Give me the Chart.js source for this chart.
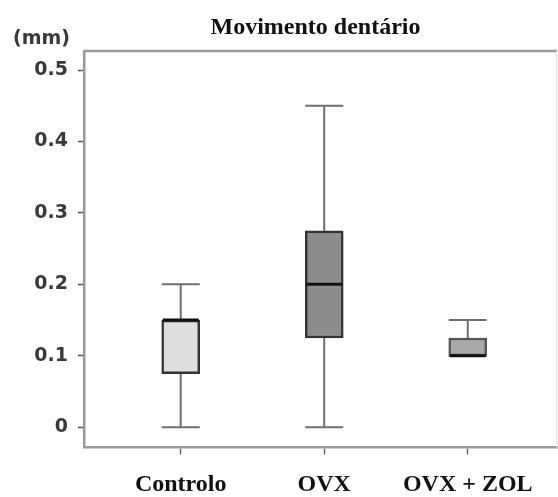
<!DOCTYPE html>
<html>
<head>
<meta charset="utf-8">
<script src="https://cdn.jsdelivr.net/npm/chart.js@4"></script>
<style>
  html, body { margin: 0; padding: 0; background: #ffffff; }
  #wrap { width: 558px; height: 497px; }
</style>
</head>
<body>
<div id="wrap"><canvas id="chart" width="558" height="497"></canvas></div>
<script>
// Tooth movement (mm) per group: five-number summaries
const categories = ['Controlo', 'OVX', 'OVX + ZOL'];
const positions  = [1, 2, 3];
const minVals    = [0.0,   0.0,   0.1];
const q1Vals     = [0.075, 0.125, 0.1];
const medianVals = [0.15,  0.2,   0.1];
const q3Vals     = [0.15,  0.275, 0.125];
const maxVals    = [0.2,   0.45,  0.15];
const yTicks     = [0, 0.1, 0.2, 0.3, 0.4, 0.5];

const boxFills   = ['#dedede', '#8c8c8c', '#a9a9a9'];
const boxBorders = ['#333333', '#333333', '#555555'];
const BOX_W = 38;

// whiskers, caps and medians drawn on top of the library scales
const boxPlotPlugin = {
  id: 'boxWhiskers',
  beforeDatasetsDraw(chart) {
    const { ctx, scales: { x, y } } = chart;
    ctx.save();
    ctx.strokeStyle = '#6f6f6f';
    ctx.lineWidth = 2;
    positions.forEach((p, i) => {
      const cx = x.getPixelForValue(p);
      const yMin = y.getPixelForValue(minVals[i]);
      const yQ1 = y.getPixelForValue(q1Vals[i]);
      const yQ3 = y.getPixelForValue(q3Vals[i]);
      const yMax = y.getPixelForValue(maxVals[i]);
      ctx.beginPath();
      ctx.moveTo(cx, yMin); ctx.lineTo(cx, yQ1);
      ctx.moveTo(cx, yQ3); ctx.lineTo(cx, yMax);
      ctx.moveTo(cx - BOX_W / 2, yMin); ctx.lineTo(cx + BOX_W / 2, yMin);
      ctx.moveTo(cx - BOX_W / 2, yMax); ctx.lineTo(cx + BOX_W / 2, yMax);
      ctx.stroke();
    });
    ctx.restore();
  },
  afterDatasetsDraw(chart) {
    const { ctx, scales: { x, y } } = chart;
    ctx.save();
    ctx.strokeStyle = '#111111';
    ctx.lineWidth = 3;
    positions.forEach((p, i) => {
      const cx = x.getPixelForValue(p);
      const ym = y.getPixelForValue(medianVals[i]);
      ctx.beginPath();
      ctx.moveTo(cx - BOX_W / 2 + 1, ym);
      ctx.lineTo(cx + BOX_W / 2 - 1, ym);
      ctx.stroke();
    });
    ctx.restore();
  }
};

// frame on the top/right and the two header texts
const framePlugin = {
  id: 'frameAndHeader',
  beforeDatasetsDraw(chart) {
    const { ctx, chartArea: a } = chart;
    ctx.save();
    ctx.strokeStyle = '#9a9a9a';
    ctx.lineWidth = 2.5;
    ctx.beginPath();
    ctx.moveTo(a.left, a.top); ctx.lineTo(a.right, a.top);
    ctx.stroke();
    ctx.strokeStyle = '#e2e2e2';
    ctx.lineWidth = 1;
    ctx.beginPath();
    ctx.moveTo(a.right - 0.5, a.top); ctx.lineTo(a.right - 0.5, a.bottom);
    ctx.stroke();
    ctx.restore();
  },
  afterDraw(chart) {
    const { ctx, chartArea: a } = chart;
    ctx.save();
    ctx.fillStyle = '#111111';
    ctx.font = 'bold 24px "Liberation Serif", "Times New Roman", serif';
    ctx.textAlign = 'center';
    ctx.textBaseline = 'alphabetic';
    ctx.fillText('Movimento dentário', (a.left + a.right) / 2 - 5, 34);
    ctx.fillStyle = '#3a3a3a';
    ctx.font = 'bold 19px "DejaVu Sans", sans-serif';
    ctx.textAlign = 'left';
    ctx.fillText('(mm)', 13, 44);
    ctx.restore();
  }
};

new Chart(document.getElementById('chart'), {
  type: 'bar',
  data: {
    datasets: [{
      data: positions.map((p, i) => ({ x: p, y: [q1Vals[i], q3Vals[i]] })),
      backgroundColor: boxFills,
      borderColor: boxBorders,
      borderWidth: 2.5,
      borderSkipped: false,
      barThickness: BOX_W
    }]
  },
  options: {
    responsive: false,
    animation: false,
    layout: { padding: { top: 51, right: 1, left: 0, bottom: 0 } },
    plugins: { legend: { display: false }, tooltip: { enabled: false }, title: { display: false } },
    scales: {
      x: {
        type: 'linear',
        offset: false,
        min: 0.326,
        max: 3.622,
        afterBuildTicks(s) { s.ticks = positions.map(v => ({ value: v })); },
        afterFit(s) { s.height = 49.5; },
        ticks: {
          callback: v => categories[v - 1],
          color: '#111111',
          font: { family: '"Liberation Serif", "Times New Roman", serif', size: 24, weight: 'bold' },
          padding: 16,
          maxRotation: 0,
          autoSkip: false
        },
        grid: { offset: false, drawOnChartArea: false, drawTicks: true, tickLength: 7, color: '#666666', tickWidth: 1.5 },
        border: { display: true, color: '#9a9a9a', width: 2.5 }
      },
      y: {
        min: -0.0283,
        max: 0.5266,
        afterBuildTicks(s) { s.ticks = yTicks.map(v => ({ value: v })); },
        afterFit(s) { s.width = 84; },
        ticks: {
          callback: v => (v === 0 ? '0' : v.toFixed(1)),
          color: '#3a3a3a',
          font: { family: '"DejaVu Sans", sans-serif', size: 19, weight: 'bold' },
          padding: 10
        },
        grid: { drawOnChartArea: false, drawTicks: true, tickLength: 6, color: '#555555', tickWidth: 1.5 },
        border: { display: true, color: '#9a9a9a', width: 2.5 }
      }
    }
  },
  plugins: [boxPlotPlugin, framePlugin]
});
</script>
</body>
</html>
